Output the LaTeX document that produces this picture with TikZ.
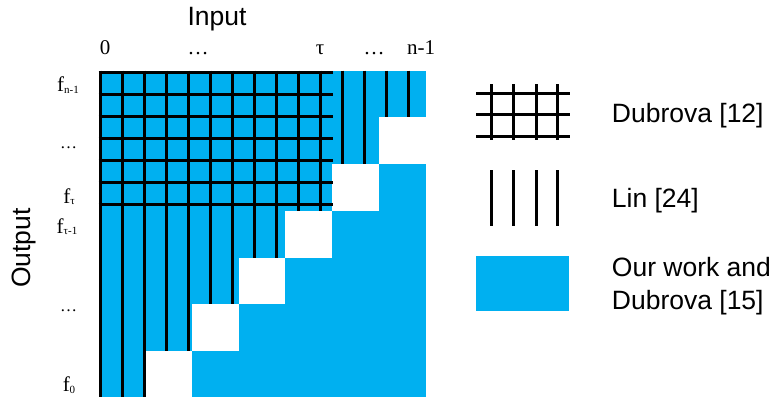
\documentclass[tikz,border=0pt]{standalone}
\usepackage{fontspec}
\setmainfont{Liberation Sans}
\newfontfamily\tmsfont{Liberation Serif}
\definecolor{ourblue}{HTML}{00B0F0}
\tikzset{
  gline/.style={line width=3pt, line cap=butt, black},
  sanslab/.style={inner sep=0pt, anchor=base, font=\fontsize{26.5}{31}\selectfont},
  leglab/.style={inner sep=0pt, anchor=base west, font=\fontsize{26.5}{31}\selectfont},
  axlab/.style={inner sep=0pt, anchor=base, font=\tmsfont\fontsize{21}{24}\selectfont},
  flab/.style={inner sep=0pt, anchor=base, font=\tmsfont\fontsize{21}{24}\selectfont},
}
\newcommand{\fsub}[1]{f{\fontsize{11}{12}\selectfont\raisebox{-1.5pt}{#1}}}
\begin{document}
\begin{tikzpicture}[x=1pt,y=-1pt]
\useasboundingbox (0,0) rectangle (775,400);
% main field
\fill[ourblue] (98.5,70.7) rectangle (425.7,397.3);
\foreach \c in {1,...,6}{
  \pgfmathsetmacro{\xa}{98.5+\c*46.743}
  \pgfmathsetmacro{\ya}{70.7+(7-\c)*46.743}
  \fill[white] (\xa,\ya) rectangle ++(46.743,46.743);
}
% vertical lines
\foreach \x/\ye in {100/397.3,122/397.3,144/397.3,166/351.1,188/351.1,210/304.4,232/304.4,254/257.7,276/257.7,298/210.9,320/210.9,342/164.2,364/164.2,386/117.4,408/117.4}{
  \draw[gline] (\x,70.7) -- (\x,\ye);
}
% horizontal lines
\foreach \y in {72,94,116,138,160,182,204}{
  \draw[gline] (98.5,\y) -- (332.7,\y);
}
% axis labels
\node[sanslab] (input) at (217,25) {Input};
\node[sanslab, rotate=90] (output) at (30,248) {Output};
\node[axlab] (i0) at (105,54) {0};
\node[axlab] (idots1) at (198,54) {…};
\node[axlab] (itau) at (320,54) {τ};
\node[axlab] (idots2) at (374,54) {…};
\node[axlab] (in1) at (421,54) {n-1};
\node[flab] (fn1) at (68,91.7) {\fsub{n-1}};
\node[axlab, font=\tmsfont\fontsize{17}{20}\selectfont] (odots1) at (68.5,148.7) {…};
\node[flab] (ftau) at (69,203) {\fsub{τ}};
\node[flab] (ftau1) at (67,233) {\fsub{τ-1}};
\node[axlab, font=\tmsfont\fontsize{17}{20}\selectfont] (odots2) at (68.5,311.7) {…};
\node[flab] (f0) at (69,391.7) {\fsub{0}};
% legend: grid
\foreach \y in {93.3,114.7,136.7}{
  \draw[gline] (476,\y) -- (570,\y);
}
\foreach \x in {491.3,513.3,536.3,557.3}{
  \draw[gline] (\x,84) -- (\x,140);
  \draw[gline] (\x,170) -- (\x,225.7);
}
\fill[ourblue] (476,256) rectangle (569,311);
\node[leglab] (l1) at (611.7,122.7) {Dubrova [12]};
\node[leglab] (l2) at (611.7,207.7) {Lin [24]};
\node[leglab] (l3a) at (611.7,276.3) {Our work and};
\node[leglab] (l3b) at (611.7,309.3) {Dubrova [15]};
\end{tikzpicture}
\end{document}
